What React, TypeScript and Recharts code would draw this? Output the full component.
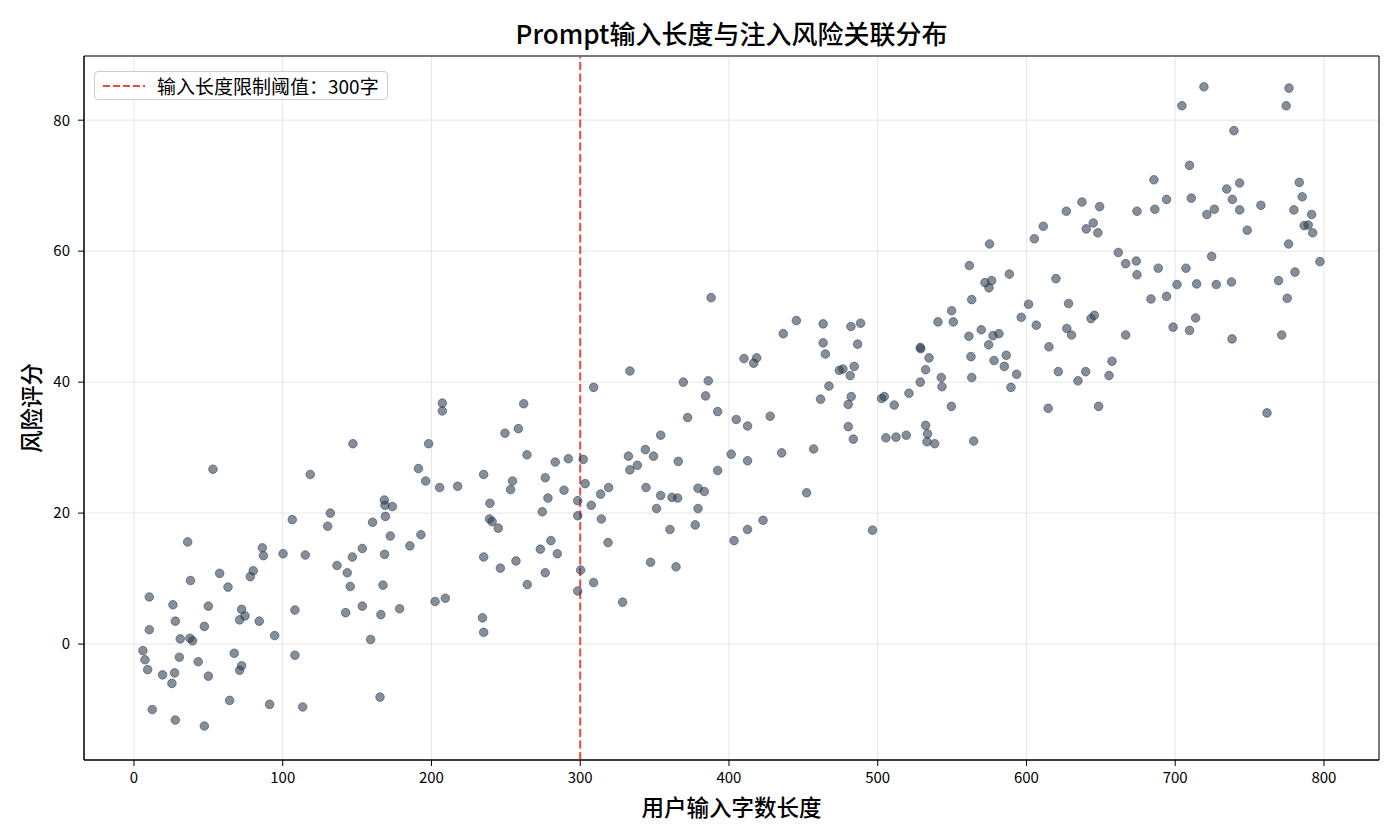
import React from 'react';
import { ScatterChart, Scatter, XAxis, YAxis, CartesianGrid, ReferenceLine, ReferenceArea } from 'recharts';

const FONT = '"Noto Sans CJK SC", "Noto Sans", sans-serif';

// [字数, 风险评分] 按字数区间分组
const band0to130: [number, number][] = [
  [6, -1], [7.4, -2.4], [9.2, -3.9], [10.3, 7.2], [10.3, 2.2], [12.3, -10], [19.2, -4.7], [26.2, 6],
  [25.5, -6], [27.8, -11.6], [27.8, 3.5], [27.3, -4.4], [30.5, -2], [31.1, 0.8], [36.1, 15.6], [38, 9.7],
  [37.6, 0.9], [39.4, 0.5], [43.2, -2.7], [47.3, -12.5], [47.3, 2.7], [50, 5.8], [50, -4.9], [53.1, 26.7],
  [57.6, 10.8], [63.2, 8.7], [64.3, -8.6], [67.4, -1.4], [71, -4], [71, 3.7], [72.4, 5.3], [72.4, -3.3],
  [74.6, 4.3], [78.2, 10.3], [80.2, 11.2], [84.2, 3.5], [86.3, 14.7], [87, 13.5], [91.2, -9.2], [94.6, 1.3],
  [100.2, 13.8], [106.4, 19], [108.2, 5.2], [108.2, -1.7], [113.4, -9.6], [115.2, 13.6], [118.5, 25.9],
];

const band130to265: [number, number][] = [
  [130.2, 18], [132, 20], [136.5, 12], [142.3, 4.8], [143.4, 10.9], [145.4, 8.8], [146.8, 13.3], [147.2, 30.6],
  [153.5, 14.6], [153.5, 5.8], [159.1, 0.7], [160.4, 18.6], [165.4, -8.1], [166, 4.5], [167.4, 9], [168.5, 13.7],
  [168.3, 22], [168.7, 21.2], [169, 19.5], [172.3, 16.5], [173.7, 21], [178.6, 5.4], [185.5, 15], [191.2, 26.8],
  [192.9, 16.7], [196.1, 24.9], [198.1, 30.6], [202.4, 6.5], [205.5, 23.9], [207.3, 36.8], [207.3, 35.6], [209.3, 7],
  [217.6, 24.1], [234.3, 4], [235.1, 1.8], [235.1, 13.3], [235.1, 25.9], [239, 19.1], [239.3, 21.5], [240.8, 18.7],
  [244.9, 17.7], [246.3, 11.6], [249.4, 32.2], [253.2, 23.6], [254.5, 24.9], [256.8, 12.7], [258.4, 32.9], [262, 36.7],
  [264.2, 28.9], [264.4, 9.1],
];

const band265to400: [number, number][] = [
  [276.5, 25.4], [274.5, 20.2], [273.2, 14.5], [276.5, 10.9], [278.3, 22.3], [280.3, 15.8], [283.2, 27.8], [284.6, 13.8],
  [289.1, 23.5], [292, 28.3], [298.3, 21.9], [298.3, 19.6], [298.3, 8.1], [300.3, 11.3], [302, 28.2], [303.3, 24.5],
  [307.4, 21.2], [309, 39.2], [309, 9.4], [313.7, 22.9], [314.2, 19.1], [318.7, 15.5], [319.1, 23.9], [328.5, 6.4],
  [332.4, 28.7], [333.4, 26.6], [333.4, 41.7], [338.4, 27.3], [343.8, 29.7], [344.2, 23.9], [347.3, 12.5], [349.3, 28.7],
  [351.3, 20.7], [354.1, 31.9], [354.1, 22.7], [360.3, 17.5], [361.7, 22.4], [364.4, 11.8], [365.5, 22.3], [365.9, 27.9],
  [369.3, 40], [372.2, 34.6], [377.3, 18.2], [379.2, 23.8], [379.2, 20.7], [383.4, 23.3], [384.3, 37.9], [386.1, 40.2],
  [388, 52.9], [392.4, 35.5], [392.4, 26.5],
];

const band400to535: [number, number][] = [
  [401.5, 29], [403.4, 15.8], [404.9, 34.3], [410.1, 43.6], [412.5, 33.3], [412.5, 28], [412.5, 17.5], [416.6, 42.9],
  [418.6, 43.7], [422.9, 18.9], [427.7, 34.8], [435.4, 29.2], [436.5, 47.4], [445.3, 49.4], [452.2, 23.1], [456.9, 29.8],
  [461.6, 37.4], [463.3, 48.9], [463.3, 46], [464.8, 44.3], [467.2, 39.4], [474.2, 41.8], [476.6, 42], [480.2, 36.6],
  [480.2, 33.2], [481.5, 41], [482, 48.5], [482.2, 37.8], [483.6, 31.3], [484.2, 42.4], [486.5, 45.8], [488.5, 49],
  [496.5, 17.4], [502.6, 37.5], [504.4, 37.8], [505.5, 31.5], [511.1, 36.5], [512.3, 31.6], [519.2, 31.9], [521, 38.3],
  [528.6, 45.3], [528.9, 45.1], [528.6, 40], [532.2, 41.9], [534.5, 43.7], [532.2, 33.4], [533.5, 32.1], [533.1, 30.9],
];

const band535to670: [number, number][] = [
  [538.3, 30.6], [540.5, 49.2], [542.7, 40.7], [543.2, 39.3], [549.5, 36.3], [549.7, 50.9], [550.8, 49.2], [561.3, 47],
  [561.6, 57.8], [562.7, 43.9], [563.2, 52.6], [563.2, 40.7], [564.5, 31], [569.6, 48], [572.1, 55.2], [574.8, 54.4],
  [574.6, 45.7], [575.2, 61.1], [576.6, 55.5], [577.5, 47.1], [578.2, 43.3], [581.5, 47.4], [585.1, 42.4], [586.4, 44.1],
  [588.5, 56.5], [589.6, 39.2], [593.4, 41.2], [596.5, 49.9], [601.4, 51.9], [605.3, 61.9], [606.6, 48.7], [611.3, 63.8],
  [614.6, 36], [615.1, 45.4], [619.8, 55.8], [621.4, 41.6], [626.8, 66.1], [627.1, 48.2], [628.3, 52], [630.3, 47.2],
  [634.6, 40.2], [637.3, 67.5], [639.8, 41.6], [640.2, 63.4], [643.4, 49.7], [644.9, 64.3], [645.6, 50.2], [648, 62.8],
  [648.5, 36.3], [649.2, 66.8], [655.5, 41], [657.5, 43.2], [661.7, 59.8], [666.7, 58.1], [666.7, 47.2],
];

const band670to800: [number, number][] = [
  [673.8, 58.5], [674.3, 56.4], [674.3, 66.1], [683.7, 52.7], [685.7, 70.9], [686.3, 66.4], [688.6, 57.4], [694.2, 67.9],
  [694.2, 53.1], [698.6, 48.4], [701.2, 54.9], [704.5, 82.2], [707.2, 57.4], [709.6, 73.1], [709.6, 47.9], [710.8, 68.1],
  [713.7, 49.8], [714.4, 55], [719.3, 85.1], [721.3, 65.6], [724.5, 59.2], [726.3, 66.4], [727.6, 54.9], [734.6, 69.5],
  [737.8, 55.3], [738.2, 46.6], [738.4, 67.9], [739.5, 78.4], [743.3, 70.4], [743.3, 66.3], [748.4, 63.2], [757.6, 67],
  [761.7, 35.3], [769.5, 55.5], [771.6, 47.2], [774.6, 82.2], [775.3, 52.8], [776.2, 61.1], [776.5, 84.9], [779.8, 66.3],
  [780.5, 56.8], [783.4, 70.5], [785.4, 68.3], [786.7, 63.9], [789.4, 64], [791.7, 65.6], [792.4, 62.8], [797.3, 58.4],
];

const xTicks = [0, 100, 200, 300, 400, 500, 600, 700, 800];
const yTicks = [0, 20, 40, 60, 80];
const xDomain: [number, number] = [-33.6, 837];
const yDomain: [number, number] = [-17.7, 89.8];
const threshold = 300;

const points = [...band0to130, ...band130to265, ...band265to400, ...band400to535, ...band535to670, ...band670to800]
  .map(([x, y]) => ({ x, y }));

const Dot = (props: any) => {
  const { cx, cy } = props;
  if (cx == null || cy == null) return null;
  return (
    <circle cx={cx} cy={cy} r={4.3} fill="#2c3e50" fillOpacity={0.58} stroke="#2c3e50" strokeOpacity={0.6} strokeWidth={0.9} />
  );
};

const tickStyle = { fontSize: 15, fill: '#000', fontFamily: FONT };

export default function App() {
  return (
    <div style={{ position: 'absolute', left: 0, top: 0, width: 1400, height: 840, background: '#fff', fontFamily: FONT }}>
      <div style={{ position: 'absolute', left: 84, width: 1295, top: 19, textAlign: 'center', fontSize: 26, fontWeight: 500, lineHeight: '28px', color: '#000' }}>
        Prompt输入长度与注入风险关联分布
      </div>
      <ScatterChart width={1400} height={840} margin={{ top: 56, right: 21, bottom: 40, left: 24 }}>
        <CartesianGrid stroke="#e6e6e6" strokeWidth={1} />
        <XAxis
          type="number"
          dataKey="x"
          domain={xDomain}
          ticks={xTicks}
          allowDataOverflow
          height={40}
          tickSize={6}
          tickMargin={6}
          stroke="#000"
          tick={tickStyle}
        />
        <YAxis
          type="number"
          dataKey="y"
          domain={yDomain}
          ticks={yTicks}
          allowDataOverflow
          width={60}
          tickSize={6}
          tickMargin={8}
          stroke="#000"
          tick={tickStyle}
        />
        <ReferenceArea x1={xDomain[0]} x2={xDomain[1]} y1={yDomain[0]} y2={yDomain[1]} fill="none" fillOpacity={0} stroke="#000" strokeWidth={1} />
        <Scatter data={points} shape={Dot} isAnimationActive={false} />
        <ReferenceLine x={threshold} stroke="#e74c3c" strokeWidth={2} strokeDasharray="8 3.5" />
      </ScatterChart>
      <div style={{ position: 'absolute', left: 84, width: 1295, top: 792, textAlign: 'center', fontSize: 22.5, fontWeight: 500, lineHeight: '28px', color: '#000' }}>
        用户输入字数长度
      </div>
      <div
        style={{
          position: 'absolute', left: 30, top: 408, width: 200, marginLeft: -100, marginTop: -14,
          textAlign: 'center', fontSize: 22.5, fontWeight: 500, lineHeight: '28px', color: '#000', transform: 'rotate(-90deg)',
        }}
      >
        风险评分
      </div>
      <div
        style={{
          position: 'absolute', left: 94, top: 71, width: 292, height: 27, border: '1px solid #cccccc', borderRadius: 4,
          background: 'rgba(255,255,255,0.8)', display: 'flex', alignItems: 'center',
        }}
      >
        <svg width={42} height={10} style={{ marginLeft: 8, flexShrink: 0 }}>
          <line x1={0} y1={5} x2={42} y2={5} stroke="#e74c3c" strokeWidth={2} strokeDasharray="7 3" />
        </svg>
        <span style={{ marginLeft: 12, fontSize: 19, lineHeight: '20px', whiteSpace: 'nowrap', color: '#000' }}>输入长度限制阈值：300字</span>
      </div>
    </div>
  );
}
